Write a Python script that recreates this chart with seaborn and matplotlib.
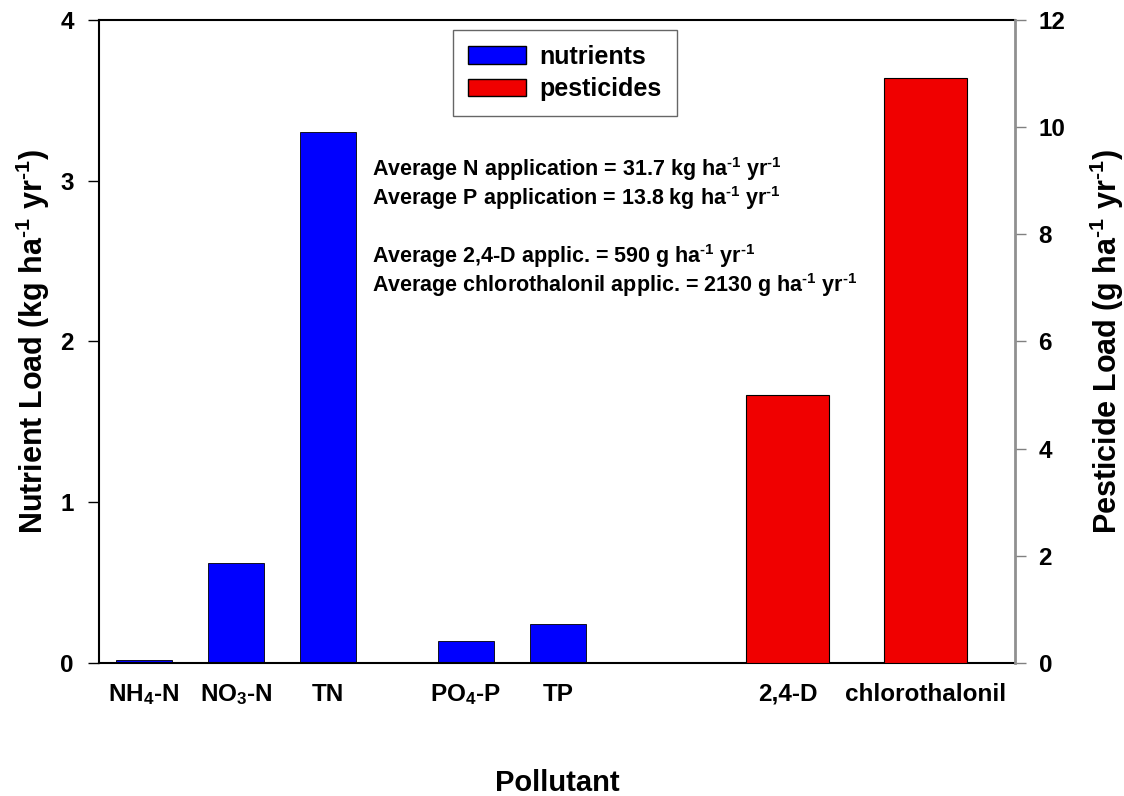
import numpy as np
import pandas as pd
import matplotlib
matplotlib.use('Agg')
import matplotlib.pyplot as plt
import seaborn as sns
from matplotlib.patches import Patch

sns.set_style('white')
plt.rcParams['font.family'] = ['Liberation Sans', 'DejaVu Sans']
plt.rcParams['font.weight'] = 'bold'
plt.rcParams['text.color'] = 'black'
plt.rcParams['axes.labelcolor'] = 'black'
plt.rcParams['xtick.color'] = 'black'
plt.rcParams['ytick.color'] = 'black'
plt.rcParams['mathtext.fontset'] = 'custom'
plt.rcParams['mathtext.rm'] = 'Liberation Sans:bold'
plt.rcParams['mathtext.bf'] = 'Liberation Sans:bold'
plt.rcParams['mathtext.default'] = 'bf'

# data
nutrients = ['NH4-N', 'NO3-N', 'TN', 'PO4-P', 'TP']
nutrient_load = [0.02, 0.62, 3.30, 0.14, 0.24]      # kg ha-1 yr-1
pesticides = ['2,4-D', 'chlorothalonil']
pesticide_load = [5.0, 10.92]                        # g ha-1 yr-1

tick_labels = [r'NH$_4$-N', r'NO$_3$-N', 'TN', r'PO$_4$-P', 'TP',
               '2,4-D', 'chlorothalonil']

sup = r'$^{\text{-1}}$'
notes = [
    'Average N application = 31.7 kg ha' + sup + ' yr' + sup,
    'Average P application = 13.8 kg ha' + sup + ' yr' + sup,
    '',
    'Average 2,4-D applic. = 590 g ha' + sup + ' yr' + sup,
    'Average chlorothalonil applic. = 2130 g ha' + sup + ' yr' + sup,
]

# layout: slot positions along the x axis (gaps between groups)
nut_pos = [0, 1, 2, 3.5, 4.5]
pest_pos = [7, 8.5]

df_n = pd.DataFrame({'pos': nut_pos, 'load': nutrient_load, 'name': nutrients})
df_p = pd.DataFrame({'pos': pest_pos, 'load': pesticide_load, 'name': pesticides})

fig = plt.figure(figsize=(11.24, 7.96), dpi=100)
ax = fig.add_axes([0.088, 0.167, 0.815, 0.808])
ax2 = ax.twinx()

sns.barplot(data=df_n, x='pos', y='load', native_scale=True, width=0.61,
            color='#0000FF', saturation=1, edgecolor='black', linewidth=0.6,
            errorbar=None, ax=ax)
sns.barplot(data=df_p, x='pos', y='load', native_scale=True, width=0.6,
            color='#F00000', saturation=1, edgecolor='black', linewidth=0.8,
            errorbar=None, ax=ax2)

ax.set_xlim(-0.49, 9.47)
ax.set_ylim(0, 4)
ax2.set_ylim(0, 12)
ax.set_yticks([0, 1, 2, 3, 4])
ax2.set_yticks([0, 2, 4, 6, 8, 10, 12])
ax.set_xticks(nut_pos + pest_pos)
ax.set_xticklabels(tick_labels)

ax.tick_params(axis='x', length=0, pad=14, labelsize=17.5)
ax.tick_params(axis='y', direction='out', length=8, width=1, left=True,
               labelsize=17.5, pad=10)
ax2.tick_params(axis='y', direction='out', length=8, width=1, right=True,
                labelsize=17.5, pad=9, color='#808080', labelcolor='black')
for t in ax.get_xticklabels() + ax.get_yticklabels() + ax2.get_yticklabels():
    t.set_fontweight('bold')

ax.set_xlabel('Pollutant', fontsize=21, fontweight='bold', labelpad=44)
ax.set_ylabel('Nutrient Load (kg ha' + sup + ' yr' + sup + ')', fontsize=22,
              fontweight='bold', labelpad=6)
ax2.set_ylabel('Pesticide Load (g ha' + sup + ' yr' + sup + ')', fontsize=22,
               fontweight='bold', labelpad=16)

for s in ['left', 'bottom', 'top']:
    ax.spines[s].set_color('black')
    ax.spines[s].set_linewidth(1.5)
    ax2.spines[s].set_visible(False)
ax.spines['right'].set_visible(False)
ax2.spines['right'].set_color('#909090')
ax2.spines['right'].set_linewidth(2)

y0 = 0.768
step = 0.045
for i, line in enumerate(notes):
    if line:
        ax.text(0.298, y0 - i * step, line, transform=ax.transAxes,
                fontsize=15.5, fontweight='bold', va='center', ha='left')

handles = [Patch(facecolor='#0000FF', edgecolor='black', label='nutrients'),
           Patch(facecolor='#F00000', edgecolor='black', label='pesticides')]
leg = ax2.legend(handles=handles, loc='upper center', bbox_to_anchor=(0.509, 0.985),
                 borderaxespad=0, fontsize=18, frameon=True, fancybox=False,
                 edgecolor='#404040', handlelength=2.3, handleheight=0.72,
                 handletextpad=0.55, borderpad=0.6, labelspacing=0.35)
leg.get_frame().set_linewidth(1)
for t in leg.get_texts():
    t.set_fontweight('bold')

fig.savefig('out.png', dpi=100)
